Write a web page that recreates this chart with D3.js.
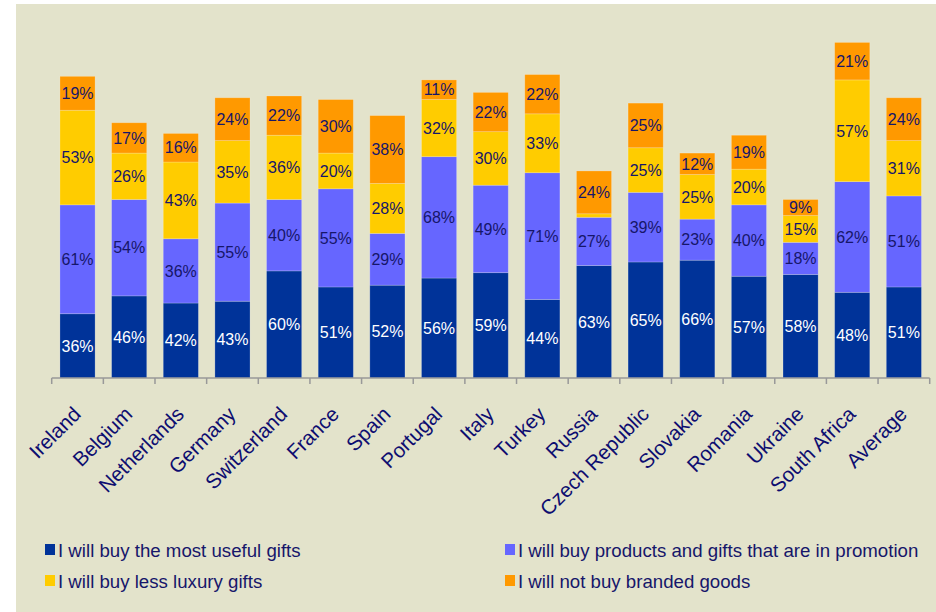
<!DOCTYPE html>
<html>
<head>
<meta charset="utf-8">
<script src="https://cdn.jsdelivr.net/npm/d3@7"></script>
<style>
  html, body { margin: 0; padding: 0; background: #ffffff; }
  svg { display: block; }
</style>
</head>
<body>
<svg id="chart" width="936" height="612"></svg>
<script>
const categories = ["Ireland","Belgium","Netherlands","Germany","Switzerland","France","Spain","Portugal","Italy","Turkey","Russia","Czech Republic","Slovakia","Romania","Ukraine","South Africa","Average"];
const useful     = [36,46,42,43,60,51,52,56,59,44,63,65,66,57,58,48,51];
const promotion  = [61,54,36,55,40,55,29,68,49,71,27,39,23,40,18,62,51];
const lessLuxury = [53,26,43,35,36,20,28,32,30,33,2,25,25,20,15,57,31];
const notBranded = [19,17,16,24,22,30,38,11,22,22,24,25,12,19,9,21,24];
const seriesNames = ["I will buy the most useful gifts","I will buy products and gifts that are in promotion","I will buy less luxury gifts","I will not buy branded goods"];
const seriesColors = ["#003399","#6666ff","#ffcc00","#ff9900"];
const labelColors = ["#ffffff","#16166a","#16166a","#16166a"];

const keys = ["useful","promotion","lessLuxury","notBranded"];
const table = categories.map((c,i)=>({cat:c, useful:useful[i], promotion:promotion[i], lessLuxury:lessLuxury[i], notBranded:notBranded[i]}));
const stacked = d3.stack().keys(keys)(table);

const svg = d3.select("#chart");
svg.append("rect").attr("x",16).attr("y",4).attr("width",920).attr("height",608).attr("fill","#e3e3cb");

const x = d3.scaleBand().domain(categories).range([51.7, 929.7]).paddingInner(0.32).paddingOuter(0.16);
const y = d3.scaleLinear().domain([0, 200]).range([378, 21]);

const groups = svg.append("g").selectAll("g").data(stacked).join("g")
  .attr("fill", (d,i)=>seriesColors[i]);
groups.selectAll("rect").data(d=>d).join("rect")
  .attr("x", d=>x(d.data.cat))
  .attr("width", x.bandwidth())
  .attr("y", d=>y(d[1]))
  .attr("height", d=>y(d[0])-y(d[1]))
  .attr("stroke","rgba(255,255,255,0.25)")
  .attr("stroke-width",0.8);

// data labels
stacked.forEach((s,si)=>{
  svg.append("g").selectAll("text").data(s.filter(d=>(d[1]-d[0])>=5)).join("text")
    .attr("x", d=>x(d.data.cat)+x.bandwidth()/2)
    .attr("y", d=>(y(d[0])+y(d[1]))/2)
    .attr("dy","0.36em")
    .attr("text-anchor","middle")
    .attr("font-family","'Liberation Sans', Arial, sans-serif")
    .attr("font-size","16px")
    .attr("fill", labelColors[si])
    .text(d=>(d[1]-d[0])+"%");
});

// axis
const axisG = svg.append("g");
axisG.append("line").attr("x1",x.range()[0]).attr("x2",x.range()[1]).attr("y1",378).attr("y2",378)
  .attr("stroke","#999999").attr("stroke-width",1.5);
const step = x.step();
const tickPos = d3.range(categories.length+1).map(i=>x.range()[0]+i*step);
axisG.selectAll("line.tick").data(tickPos).join("line").attr("class","tick")
  .attr("x1",d=>d).attr("x2",d=>d).attr("y1",378).attr("y2",384)
  .attr("stroke","#999999").attr("stroke-width",1.5);

// category labels
svg.append("g").selectAll("text").data(categories).join("text")
  .attr("transform", d=>`translate(${x(d)+x.bandwidth()/2+4.5},${415.5}) rotate(-45)`)
  .attr("text-anchor","end")
  .attr("font-family","'Liberation Sans', Arial, sans-serif")
  .attr("font-size","20.5px")
  .attr("fill","#0d0d70")
  .text(d=>d);

// legend
const legendPos = [[45,557],[505,557],[45,588],[505,588]];
const lg = svg.append("g").selectAll("g").data(seriesNames).join("g")
  .attr("transform",(d,i)=>`translate(${legendPos[i][0]},${legendPos[i][1]})`);
lg.append("rect").attr("x",0).attr("y",-13).attr("width",10).attr("height",11)
  .attr("fill",(d,i)=>seriesColors[i]);
lg.append("text").attr("x",13).attr("y",0)
  .attr("font-family","'Liberation Sans', Arial, sans-serif")
  .attr("font-size","18.67px")
  .attr("fill","#16166a")
  .text(d=>d);
</script>
</body>
</html>
